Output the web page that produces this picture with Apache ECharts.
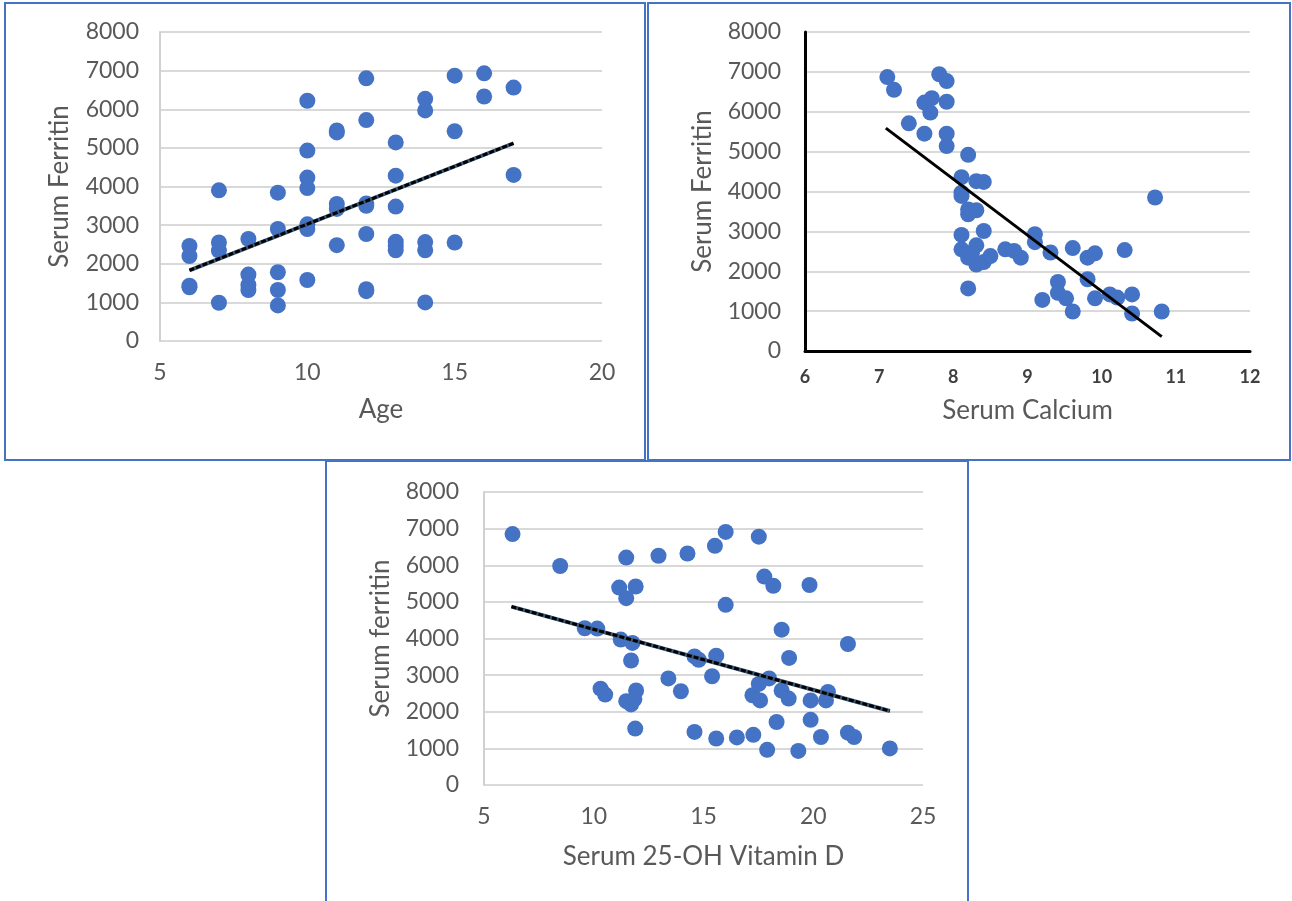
<!DOCTYPE html>
<html>
<head>
<meta charset="utf-8">
<script src="https://cdn.jsdelivr.net/npm/echarts@6/dist/echarts.min.js"></script>
<style>
  html, body { margin: 0; padding: 0; background: #fff; }
  #chart { width: 1292px; height: 901px; }
</style>
</head>
<body>
<div id="chart"></div>
<script>
  // Age vs serum ferritin
  var agePoints = [
    [6, 2460], [6, 2200], [6, 1430], [6, 1390],
    [7, 3900], [7, 2550], [7, 2340], [7, 990],
    [8, 2640], [8, 1720], [8, 1450], [8, 1320],
    [9, 3840], [9, 2900], [9, 1780], [9, 1320], [9, 920],
    [10, 6220], [10, 4930], [10, 4230], [10, 3960], [10, 3020], [10, 2900], [10, 1580],
    [11, 5450], [11, 5400], [11, 3550], [11, 3420], [11, 2480],
    [12, 6800], [12, 5720], [12, 3560], [12, 3500], [12, 2770], [12, 1340], [12, 1290],
    [13, 5140], [13, 4280], [13, 3480], [13, 2570], [13, 2460], [13, 2350],
    [14, 6270], [14, 5970], [14, 2560], [14, 2350], [14, 1000],
    [15, 6870], [15, 5430], [15, 2550],
    [16, 6930], [16, 6330],
    [17, 6560], [17, 4300]
  ]
  var ageTrend = [[6, 1830], [17, 5120]]

  // Serum calcium vs serum ferritin
  var calciumPoints = [
    [7.11, 6870], [7.20, 6550], [7.40, 5710], [7.61, 5450], [7.61, 6230], [7.71, 6340],
    [7.69, 5980], [7.81, 6940], [7.91, 6770], [7.91, 6250], [7.91, 5450], [7.91, 5140],
    [8.20, 4920], [8.11, 4360], [8.11, 3970], [8.11, 3890], [8.31, 4260], [8.41, 4240],
    [8.20, 3550], [8.31, 3530], [8.20, 3430], [8.41, 3010], [8.11, 2910], [8.11, 2550],
    [8.31, 2650], [8.20, 2340], [8.31, 2170], [8.41, 2230], [8.50, 2380], [8.25, 2450],
    [8.20, 1570], [8.70, 2550], [8.82, 2510], [8.91, 2340], [9.10, 2930], [9.10, 2730],
    [9.31, 2470], [9.20, 1280], [9.41, 1730], [9.41, 1460], [9.52, 1320], [9.61, 2580],
    [9.61, 990], [9.81, 2340], [9.91, 2450], [9.81, 1800], [9.91, 1320], [10.11, 1420],
    [10.21, 1340], [10.31, 2530], [10.41, 1420], [10.41, 940], [10.72, 3850], [10.81, 990]
  ]
  var calciumTrend = [[7.09, 5590], [10.81, 360]]

  // Serum 25-OH vitamin D vs serum ferritin
  var vitdPoints = [
    [6.30, 6850], [8.47, 5980], [9.59, 4280], [10.16, 4270], [10.31, 2630], [10.52, 2470],
    [11.48, 6210], [11.16, 5390], [11.48, 5100], [11.91, 5420], [11.23, 3970], [11.76, 3880],
    [11.70, 3400], [11.48, 2290], [11.70, 2200], [11.93, 2580], [11.85, 2340], [11.89, 1540],
    [12.95, 6260], [13.40, 2910], [13.97, 2560], [14.27, 6320], [14.59, 3510], [14.78, 3420],
    [14.59, 1450], [15.39, 2970], [15.52, 6530], [15.58, 3530], [15.58, 1270], [16.01, 6910],
    [16.01, 4920], [16.52, 1300], [17.27, 1370], [17.23, 2450], [17.52, 6780], [17.77, 5690],
    [18.18, 5440], [17.58, 2310], [17.52, 2760], [17.99, 2910], [17.90, 960], [18.33, 1720],
    [18.56, 4240], [18.56, 2580], [18.90, 3470], [18.88, 2360], [19.32, 930], [19.83, 5460],
    [19.88, 2310], [19.88, 1780], [20.35, 1310], [20.58, 2310], [20.67, 2540], [21.58, 3850],
    [21.58, 1430], [21.86, 1310], [23.49, 1000]
  ]
  var vitdTrend = [[6.25, 4870], [23.49, 2020]]

  var ferritinRange = [0, 8000, 1000]

  var chart = echarts.init(document.getElementById('chart'))
  var font = 'Lato, "Open Sans", sans-serif'
  var dotColor = '#4472C4'
  var textColor = '#595959'

  function makeXAxis(idx, min, max, interval, name, gap, dark) {
    return {
      gridIndex: idx,
      type: 'value',
      min: min,
      max: max,
      interval: interval,
      name: name,
      nameLocation: 'middle',
      nameGap: gap,
      nameTextStyle: {color: textColor, fontSize: 26, fontFamily: font},
      axisLine: {show: dark, onZero: false, lineStyle: {color: '#000', width: 3}},
      axisTick: {show: false},
      splitLine: {show: false},
      axisLabel: {
        color: dark ? '#404040' : textColor,
        fontSize: dark ? 18 : 23,
        fontWeight: dark ? 'bold' : 'normal',
        fontFamily: font,
        margin: dark ? 17 : 20
      }
    }
  }

  function makeYAxis(idx, name, gap, margin, dark) {
    return {
      gridIndex: idx,
      type: 'value',
      min: ferritinRange[0],
      max: ferritinRange[1],
      interval: ferritinRange[2],
      name: name,
      nameLocation: 'middle',
      nameGap: gap,
      nameTextStyle: {color: textColor, fontSize: 26, fontFamily: font},
      axisLine: {show: true, lineStyle: {color: dark ? '#000' : '#d0d0d0', width: dark ? 3 : 2}},
      axisTick: {show: false},
      splitLine: {show: true, lineStyle: {color: '#d9d9d9', width: 2}},
      axisLabel: {
        color: textColor, fontSize: 23, fontFamily: font, margin: margin,
        formatter: function (v) { return String(v) }
      }
    }
  }

  function dots(idx, data) {
    return {
      type: 'scatter',
      xAxisIndex: idx,
      yAxisIndex: idx,
      data: data,
      symbolSize: 16,
      itemStyle: {color: dotColor, opacity: 1},
      z: 2
    }
  }

  function trend(idx, data, dashed) {
    var out = []
    if (dashed) {
      out.push({
        type: 'line', xAxisIndex: idx, yAxisIndex: idx, data: data,
        symbol: 'none', lineStyle: {color: '#3b5a7a', width: 4}, z: 3
      })
    }
    out.push({
      type: 'line', xAxisIndex: idx, yAxisIndex: idx, data: data,
      symbol: 'none',
      lineStyle: {color: '#000', width: 3, type: dashed ? [5, 2] : 'solid'},
      z: 4
    })
    return out
  }

  function frame(x, y, w, h) {
    return {
      type: 'rect',
      shape: {x: x, y: y, width: w, height: h},
      style: {fill: 'none', stroke: '#4472C4', lineWidth: 2},
      silent: true
    }
  }

  chart.setOption({
    animation: false,
    textStyle: {fontFamily: font},
    graphic: [
      frame(5, 3, 640, 457),
      frame(648, 3, 642, 457),
      frame(326, 461, 642, 450)
    ],
    grid: [
      {left: 160, top: 32, width: 442, height: 309},
      {left: 805, top: 32, width: 445, height: 319},
      {left: 484, top: 492, width: 439, height: 293}
    ],
    xAxis: [
      makeXAxis(0, 5, 20, 5, 'Age', 56, false),
      makeXAxis(1, 6, 12, 1, 'Serum Calcium', 47, true),
      makeXAxis(2, 5, 25, 5, 'Serum 25-OH Vitamin D', 59, false)
    ],
    yAxis: [
      makeYAxis(0, 'Serum Ferritin', 87, 21, false),
      makeYAxis(1, 'Serum Ferritin', 89, 24, true),
      makeYAxis(2, 'Serum ferritin', 90, 25, false)
    ],
    series: [
      dots(0, agePoints),
      dots(1, calciumPoints),
      dots(2, vitdPoints)
    ].concat(trend(0, ageTrend, true), trend(1, calciumTrend, false), trend(2, vitdTrend, true))
  })
</script>
</body>
</html>
